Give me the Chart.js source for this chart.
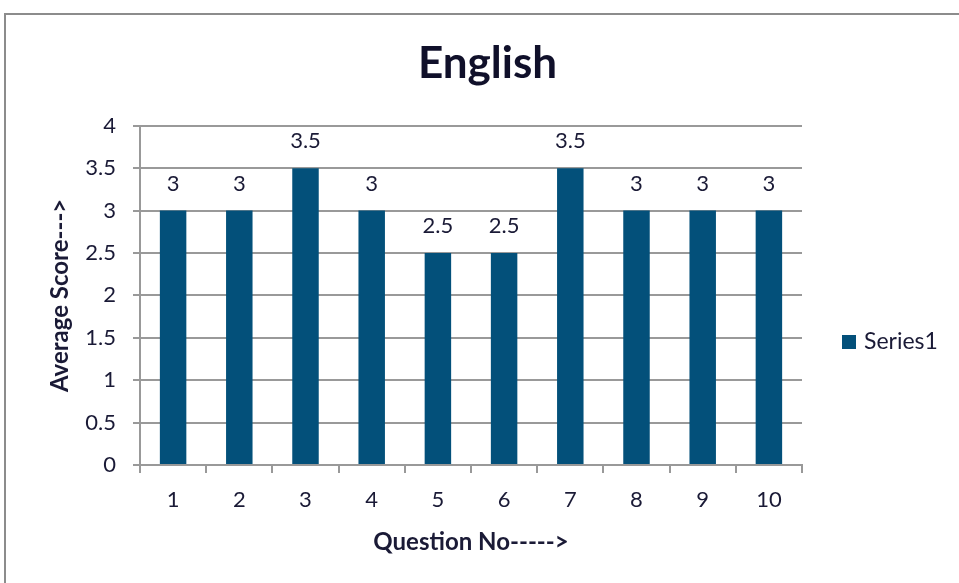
<!DOCTYPE html>
<html>
<head>
<meta charset="utf-8">
<script src="https://cdn.jsdelivr.net/npm/chart.js@4"></script>
<style>
html,body{margin:0;padding:0;background:#fff;}
#wrap{position:absolute;left:0;top:0;width:959px;height:583px;}
</style>
</head>
<body>
<div id="wrap"><canvas id="c" width="959" height="583"></canvas></div>
<script>
const categories = ['1','2','3','4','5','6','7','8','9','10'];
const series1 = [3, 3, 3.5, 3, 2.5, 2.5, 3.5, 3, 3, 3];
const seriesName = 'Series1';
const chartTitle = 'English';
const xTitle = 'Question No----->';
const yTitle = 'Average Score--->';
const yTickValues = [0, 0.5, 1, 1.5, 2, 2.5, 3, 3.5, 4];
const yTickLabels = ['0', '0.5', '1', '1.5', '2', '2.5', '3', '3.5', '4'];

const FONT = 'Lato, "Open Sans", sans-serif';
const TXT = '#1a1a36';
const BAR = '#03507a';
const GRID = '#999999';

const framePlugin = {
  id: 'frame',
  beforeDraw(chart) {
    const ctx = chart.ctx;
    ctx.save();
    ctx.fillStyle = '#fff';
    ctx.fillRect(0, 0, chart.width, chart.height);
    ctx.strokeStyle = '#8c8c8c';
    ctx.lineWidth = 2;
    ctx.beginPath();
    ctx.moveTo(5, chart.height + 5);
    ctx.lineTo(5, 14);
    ctx.lineTo(chart.width + 5, 14);
    ctx.stroke();
    ctx.restore();
  }
};

const labelPlugin = {
  id: 'valueLabels',
  afterDatasetsDraw(chart) {
    const ctx = chart.ctx;
    const meta = chart.getDatasetMeta(0);
    ctx.save();
    ctx.font = '22px ' + FONT;
    ctx.fillStyle = TXT;
    ctx.textAlign = 'center';
    ctx.textBaseline = 'middle';
    meta.data.forEach((bar, i) => {
      ctx.fillText(String(chart.data.datasets[0].data[i]), bar.x, bar.y - 27);
    });
    ctx.restore();
  }
};

const legendPlugin = {
  id: 'customLegend',
  afterDraw(chart) {
    const ctx = chart.ctx;
    const ds = chart.data.datasets[0];
    ctx.save();
    ctx.fillStyle = ds.backgroundColor;
    ctx.fillRect(842, 335, 14, 14);
    ctx.font = '23px ' + FONT;
    ctx.fillStyle = TXT;
    ctx.textAlign = 'left';
    ctx.textBaseline = 'middle';
    ctx.fillText(ds.label, 864, 342);
    ctx.restore();
  }
};

new Chart(document.getElementById('c'), {
  type: 'bar',
  data: {
    labels: categories,
    datasets: [{
      label: seriesName,
      data: series1,
      backgroundColor: BAR,
      borderWidth: 0,
      barPercentage: 0.4,
      categoryPercentage: 1.0
    }]
  },
  options: {
    responsive: false,
    animation: false,
    devicePixelRatio: 1,
    layout: { padding: { left: 16, right: 0, top: 0, bottom: 0 } },
    plugins: {
      legend: { display: false },
      tooltip: { enabled: false },
      title: {
        display: true,
        text: chartTitle,
        color: '#10102a',
        font: { family: FONT, size: 44, weight: 'bold', lineHeight: 1.2 },
        padding: { top: 37, bottom: 36 }
      }
    },
    scales: {
      x: {
        offset: true,
        grid: { display: true, drawOnChartArea: false, drawTicks: true, tickLength: 8, color: GRID, lineWidth: 2, offset: true },
        border: { display: true, color: GRID, width: 2 },
        ticks: { color: TXT, font: { family: FONT, size: 22 }, padding: 14, maxRotation: 0 },
        title: { display: true, text: xTitle, color: TXT, font: { family: FONT, size: 24, weight: 'bold', lineHeight: 1.2 }, padding: { top: 0, bottom: 26 } },
        afterFit(scale) { scale.height = 118; }
      },
      y: {
        min: 0,
        max: 4,
        afterBuildTicks(scale) { scale.ticks = yTickValues.map(v => ({ value: v })); },
        ticks: {
          color: TXT, font: { family: FONT, size: 22 }, padding: 17,
          callback(value) { const i = yTickValues.indexOf(value); return i >= 0 ? yTickLabels[i] : ''; }
        },
        grid: { color: GRID, lineWidth: 2, drawTicks: true, tickLength: 7 },
        border: { display: true, color: GRID, width: 2 },
        title: { display: true, text: yTitle, color: TXT, font: { family: FONT, size: 24, weight: 'bold', lineHeight: 1.2 }, padding: { top: 30, bottom: 0 } },
        afterFit(scale) { scale.width = 124; }
      },
      spacer: {
        type: 'linear',
        position: 'right',
        display: true,
        grid: { display: false, drawTicks: false },
        border: { display: false },
        ticks: { display: false },
        afterFit(scale) { scale.width = 157; }
      }
    }
  },
  plugins: [framePlugin, labelPlugin, legendPlugin]
});
</script>
</body>
</html>
